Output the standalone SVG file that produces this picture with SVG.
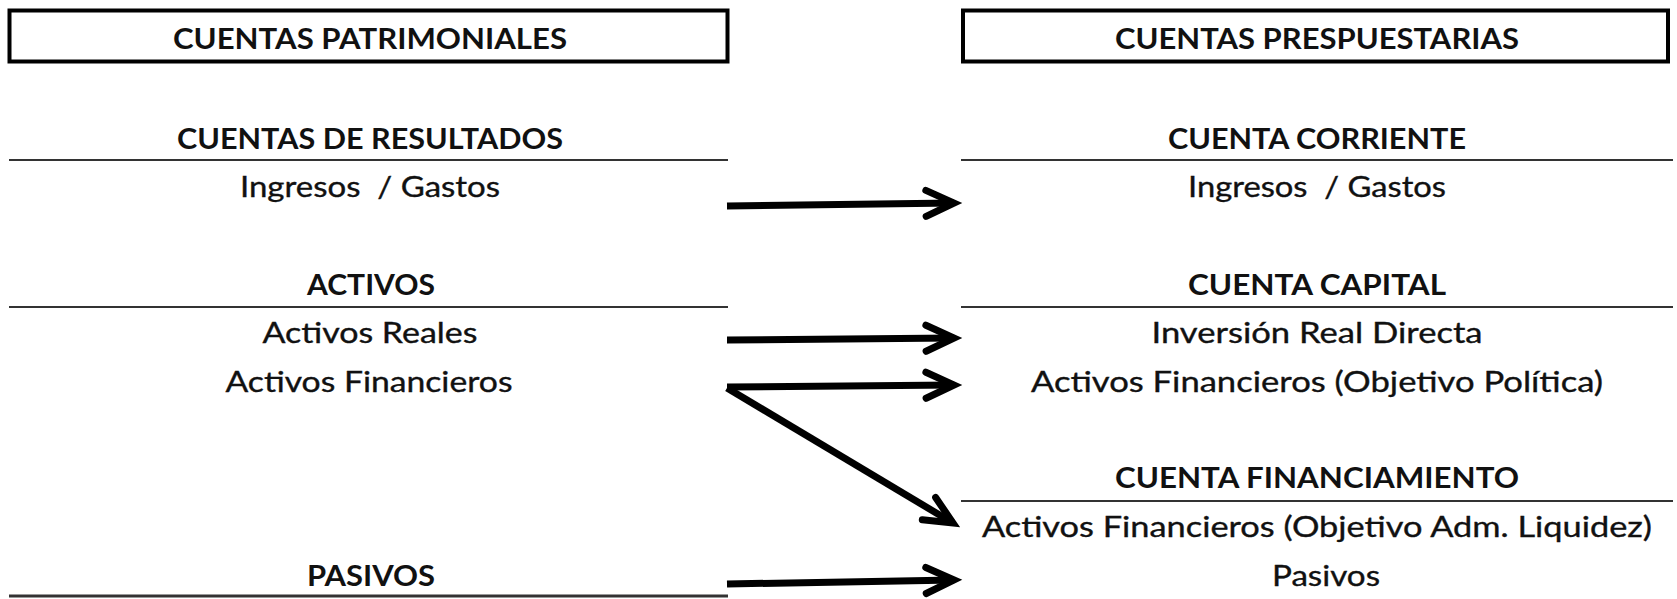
<svg xmlns="http://www.w3.org/2000/svg" width="1677" height="599" viewBox="0 0 1677 599">
<style>
.box{fill:#fff;stroke:#000;stroke-width:4}
.rule{stroke:#333;stroke-width:2}
.h{font-family:Lato,"Open Sans","Liberation Sans",sans-serif;font-weight:bold;font-size:28px;fill:#111;text-anchor:middle}
.t{font-family:Lato,"Open Sans","Liberation Sans",sans-serif;font-size:28px;fill:#111;text-anchor:middle;stroke:#111;stroke-width:0.35}
.arr{fill:none;stroke:#000;stroke-width:7;marker-end:url(#chev)}
</style>
<defs>
<marker id="chev" markerUnits="userSpaceOnUse" viewBox="-40 -25 60 50" markerWidth="60" markerHeight="50" refX="0" refY="0" orient="auto" overflow="visible">
<path d="M-28,-13 L0,0 L-28,13" fill="none" stroke="#000" stroke-width="7" stroke-linecap="round" stroke-linejoin="miter"/>
</marker>
</defs>
<rect width="1677" height="599" fill="#fff"/>

<g id="title-patrimoniales">
<rect class="box" x="9.5" y="10.5" width="718" height="51"/>
<text class="h" x="370" y="49" textLength="394" lengthAdjust="spacingAndGlyphs">CUENTAS PATRIMONIALES</text>
</g>
<g id="title-presupuestarias">
<rect class="box" x="963" y="10.5" width="705" height="51"/>
<text class="h" x="1317" y="49" textLength="404" lengthAdjust="spacingAndGlyphs">CUENTAS PRESPUESTARIAS</text>
</g>

<g id="resultados">
<text class="h" x="370" y="149" textLength="386" lengthAdjust="spacingAndGlyphs">CUENTAS DE RESULTADOS</text>
<line class="rule" x1="9" y1="160" x2="728" y2="160"/>
<text class="t" x="370" y="197" textLength="260" lengthAdjust="spacingAndGlyphs">Ingresos&#160; / Gastos</text>
</g>
<g id="activos">
<text class="h" x="371" y="295" textLength="128" lengthAdjust="spacingAndGlyphs">ACTIVOS</text>
<line class="rule" x1="9" y1="307" x2="728" y2="307"/>
<text class="t" x="370" y="343" textLength="215" lengthAdjust="spacingAndGlyphs">Activos Reales</text>
<text class="t" x="369" y="392" textLength="287" lengthAdjust="spacingAndGlyphs">Activos Financieros</text>
</g>
<g id="pasivos">
<text class="h" x="371" y="586" textLength="128" lengthAdjust="spacingAndGlyphs">PASIVOS</text>
<line x1="9" y1="596" x2="728" y2="596" stroke="#333" stroke-width="3"/>
</g>

<g id="corriente">
<text class="h" x="1317" y="149" textLength="298" lengthAdjust="spacingAndGlyphs">CUENTA CORRIENTE</text>
<line class="rule" x1="961" y1="160" x2="1673" y2="160"/>
<text class="t" x="1317" y="197" textLength="258" lengthAdjust="spacingAndGlyphs">Ingresos&#160; / Gastos</text>
</g>
<g id="capital">
<text class="h" x="1317" y="295" textLength="258" lengthAdjust="spacingAndGlyphs">CUENTA CAPITAL</text>
<line class="rule" x1="961" y1="307" x2="1673" y2="307"/>
<text class="t" x="1317" y="343" textLength="331" lengthAdjust="spacingAndGlyphs">Inversión Real Directa</text>
<text class="t" x="1317" y="392" textLength="572" lengthAdjust="spacingAndGlyphs">Activos Financieros (Objetivo Política)</text>
</g>
<g id="financiamiento">
<text class="h" x="1317" y="488" textLength="404" lengthAdjust="spacingAndGlyphs">CUENTA FINANCIAMIENTO</text>
<line class="rule" x1="961" y1="501" x2="1673" y2="501"/>
<text class="t" x="1317" y="537" textLength="670" lengthAdjust="spacingAndGlyphs">Activos Financieros (Objetivo Adm. Liquidez)</text>
<text class="t" x="1326" y="586" textLength="108" lengthAdjust="spacingAndGlyphs">Pasivos</text>
</g>

<g id="connectors">
<path class="arr" d="M727,206 L954,203"/>
<path class="arr" d="M727,340 L954,338"/>
<path class="arr" d="M727,387 L954,385"/>
<path class="arr" d="M727,388 L953,523"/>
<path class="arr" d="M727,584 L954,580"/>
</g>
</svg>
